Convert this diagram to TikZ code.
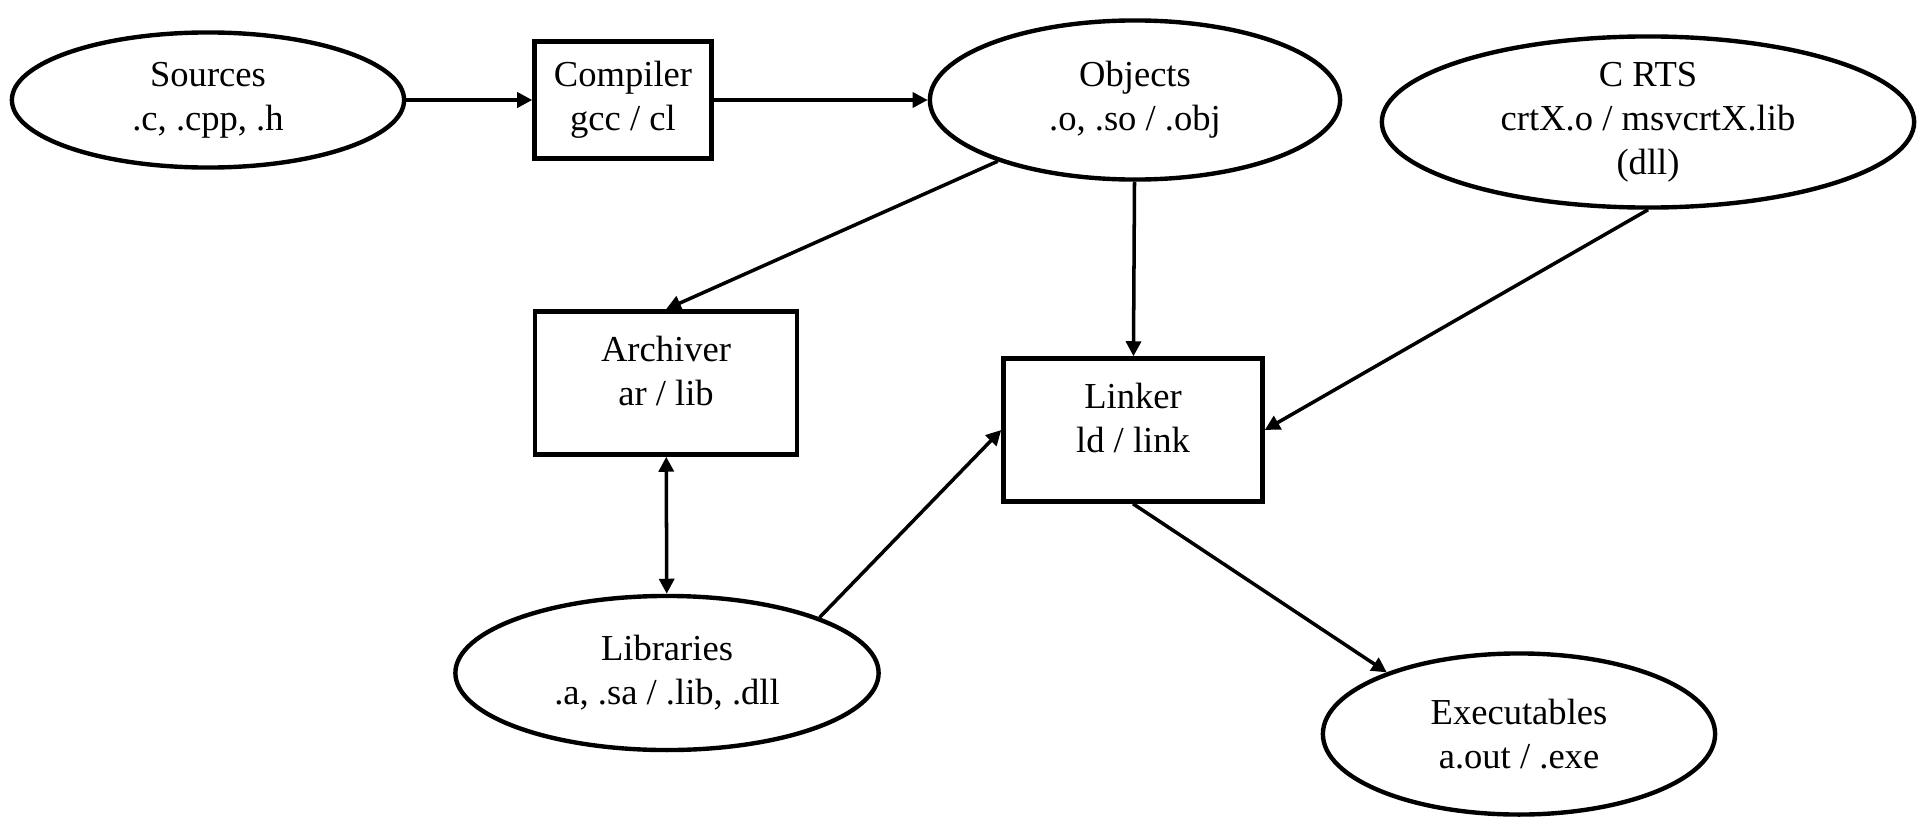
\documentclass[tikz,border=0pt]{standalone}
\usepackage{fontspec}
\setmainfont{Liberation Serif}
\usetikzlibrary{shapes.geometric, arrows.meta, positioning}

\begin{document}
\begin{tikzpicture}[
    x=0.01cm, y=-0.01cm,
    every node/.style={font=\fontsize{10.4}{12.5}\selectfont},
    datafile/.style={draw, ellipse, line width=1.25pt, align=center, inner sep=0pt},
    tool/.style={draw, rectangle, line width=1.25pt, align=center, inner sep=0pt},
    tooltext/.style={align=center, inner sep=0pt},
    arrow/.style={-{Triangle[length=0.15cm, width=0.15cm]}, line width=1pt},
    dblarrow/.style={{Triangle[length=0.15cm, width=0.15cm]}-{Triangle[length=0.15cm, width=0.15cm]}, line width=1pt},
]
    \useasboundingbox (0,0) rectangle (1918,818);

    % files
    \node[datafile, minimum width=3.92cm, minimum height=1.35cm] (src) at (208,100)
        {Sources\\.c, .cpp, .h};
    \node[datafile, minimum width=4.10cm, minimum height=1.59cm] (obj) at (1135,100)
        {Objects\\.o, .so / .obj};
    \node[datafile, minimum width=5.32cm, minimum height=1.71cm] (crts) at (1648,122)
        {C RTS\\crtX.o / msvcrtX.lib\\(dll)};
    \node[datafile, minimum width=4.23cm, minimum height=1.54cm] (lib) at (667,673)
        {Libraries\\.a, .sa / .lib, .dll};
    \node[datafile, minimum width=3.92cm, minimum height=1.61cm] (exe) at (1519,734)
        {Executables\\a.out / .exe};

    % tools
    \node[tool, minimum width=1.77cm, minimum height=1.17cm] (comp) at (623,100)
        {Compiler\\gcc / cl};
    \node[tool, minimum width=2.62cm, minimum height=1.43cm] (arch) at (666,383) {};
    \node[tooltext] (archtxt) at (666,371) {Archiver\\ar / lib};
    \node[tool, minimum width=2.59cm, minimum height=1.43cm] (link) at (1133,430) {};
    \node[tooltext] (linktxt) at (1133,418) {Linker\\ld / link};

    \draw[arrow] (src) -- (comp);
    \draw[arrow] (comp) -- (obj);
    \draw[arrow] (obj) -- (arch.north);
    \draw[arrow] (obj) -- (link);
    \draw[arrow] (crts.south) -- (link.east);
    \draw[dblarrow] (arch) -- (lib);
    \draw[arrow] (lib.20) -- (link.west);
    \draw[arrow] (link.south) -- (exe.155);
\end{tikzpicture}
\end{document}
